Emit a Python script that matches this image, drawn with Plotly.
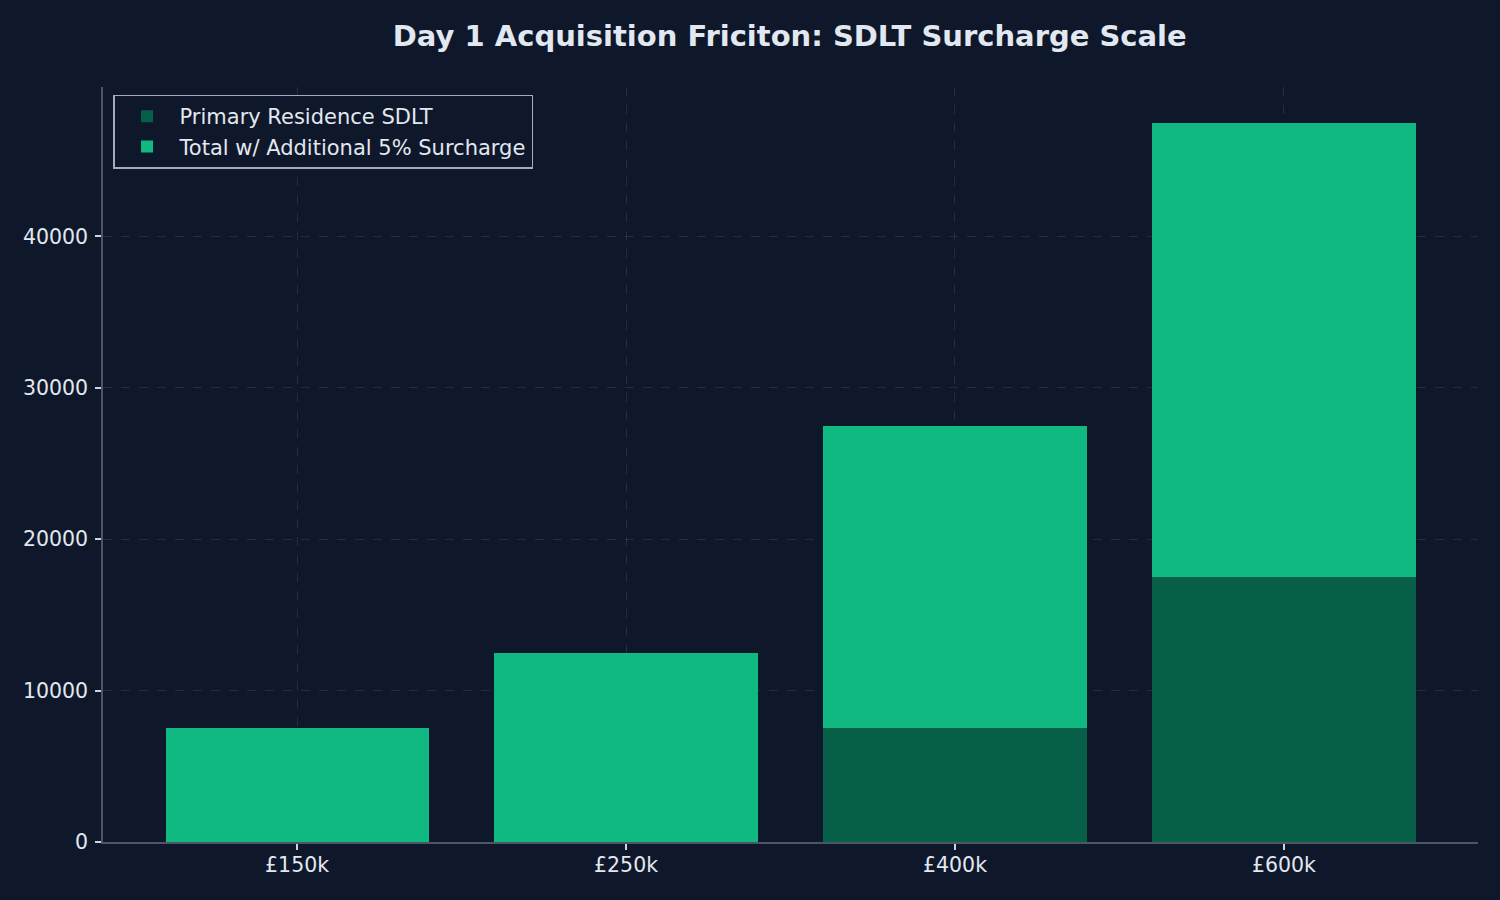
import plotly.graph_objects as go

# ---- data ----
categories = ["£150k", "£250k", "£400k", "£600k"]
primary_sdlt = [0, 0, 7500, 17500]
surcharge_5pct = [7500, 12500, 20000, 30000]
y_ticks = [0, 10000, 20000, 30000, 40000]

BG = "#0f172a"
TEXT = "#e2e8f0"
SPINE = "#4b5563"
GRID = "rgba(148,163,184,0.16)"
FONT = "DejaVu Sans"

fig = go.Figure()
fig.add_trace(go.Bar(
    x=categories, y=primary_sdlt, name="Primary Residence SDLT",
    marker=dict(color="#065f46", line=dict(width=0)), width=0.8,
))
fig.add_trace(go.Bar(
    x=categories, y=surcharge_5pct, name="Total w/ Additional 5% Surcharge",
    marker=dict(color="#10b981", line=dict(width=0)), width=0.8,
))

fig.update_layout(
    width=1500, height=900,
    barmode="stack",
    paper_bgcolor=BG, plot_bgcolor=BG,
    font=dict(family=FONT, color=TEXT, size=21),
    margin=dict(l=103, r=22, t=87, b=58),
    title=dict(
        text="<b>Day 1 Acquisition Friciton: SDLT Surcharge Scale</b>",
        x=0.5265, xanchor="center", xref="container",
        y=1 - 36 / 900, yanchor="middle", yref="container",
        font=dict(family=FONT, size=29, color=TEXT),
    ),
    legend=dict(
        x=0.0073, y=0.99, xanchor="left", yanchor="top",
        bgcolor="rgba(15,23,42,0.85)", bordercolor="#a3acb9", borderwidth=1.5,
        font=dict(family=FONT, size=21, color=TEXT),
        traceorder="normal", tracegroupgap=0, itemwidth=55,
    ),
    showlegend=True,
)

fig.update_xaxes(
    type="category", range=[-0.59, 3.59],
    showline=True, linecolor=SPINE, linewidth=1.5, mirror=False,
    ticks="outside", ticklen=6, tickwidth=1.5, tickcolor="#cbd5e1",
    tickfont=dict(family=FONT, size=20.5, color=TEXT),
    ticklabelstandoff=-2,
    showgrid=True, gridcolor=GRID, griddash="dash", gridwidth=1,
    zeroline=False,
)
fig.update_yaxes(
    range=[0, 49875], tickvals=y_ticks, ticktext=[str(v) for v in y_ticks],
    showline=True, linecolor=SPINE, linewidth=1.5, mirror=False,
    ticks="outside", ticklen=6, tickwidth=1.5, tickcolor="#cbd5e1",
    tickfont=dict(family=FONT, size=20.5, color=TEXT),
    ticklabelstandoff=3,
    showgrid=True, gridcolor=GRID, griddash="dash", gridwidth=1,
    zeroline=False,
)

fig.write_html("out.html")
